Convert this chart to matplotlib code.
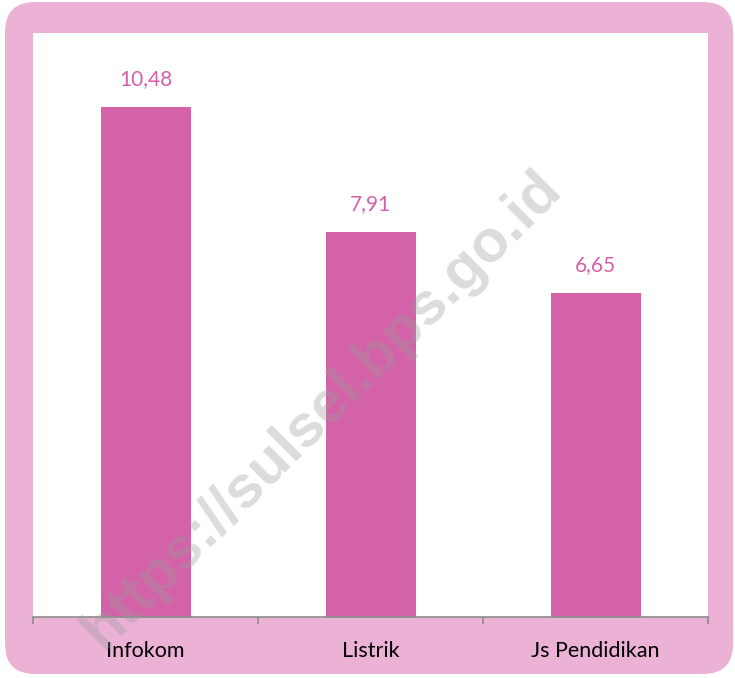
import matplotlib
matplotlib.use("Agg")
from matplotlib import pyplot as plt
from matplotlib.patches import FancyBboxPatch

# data
categories = ["Infokom", "Listrik", "Js Pendidikan"]
values = [10.48, 7.91, 6.65]
value_labels = ["10,48", "7,91", "6,65"]

plt.rcParams['font.family'] = ['Lato', 'DejaVu Sans']

W, H = 735, 678
fig = plt.figure(figsize=(W / 100, H / 100), dpi=100)
fig.patch.set_facecolor("white")

# pink rounded frame (drawn in pixel units so the corners stay round)
frame = FancyBboxPatch((5, 4), 728, 672,
                       boxstyle="round,pad=0,rounding_size=30",
                       transform=None, facecolor="#EBB2D6",
                       edgecolor="none", zorder=-1)
fig.add_artist(frame)

ax = fig.add_axes([33 / W, 61 / H, 675 / W, 584 / H])
ax.set_zorder(1)
ax.set_facecolor("white")

bar_color = "#D462A9"
x = list(range(len(categories)))
bars = ax.bar(x, values, width=0.4, color=bar_color, zorder=2)

for b, lab in zip(bars, value_labels):
    ax.annotate(lab, (b.get_x() + b.get_width() / 2, b.get_height()),
                xytext=(0, 13), textcoords="offset points",
                ha="center", va="bottom", fontsize=15, color="#D65FA8")

ax.set_xlim(-0.5, 2.5)
ax.set_ylim(0, 12)
for s in ["top", "left", "right"]:
    ax.spines[s].set_visible(False)
ax.spines["bottom"].set_color("#8C8C8C")
ax.spines["bottom"].set_linewidth(1.2)

ax.set_yticks([])
ax.set_xticks([-0.5, 0.5, 1.5, 2.5])
ax.set_xticklabels([])
ax.tick_params(axis="x", which="major", direction="out", length=5,
               width=1.2, color="#8C8C8C")
ax.set_xticks(x, minor=True)
ax.set_xticklabels(categories, minor=True, fontsize=15.5, color="black")
ax.tick_params(axis="x", which="minor", length=0, pad=17)

# watermark
fig.text(322 / W, 1 - 410 / H, "https://sulsel.bps.go.id", rotation=45,
         ha="center", va="center", fontsize=43, fontweight="bold",
         family="Liberation Sans", color="#9A9A9A", alpha=0.35, zorder=5)

fig.savefig("out.png", dpi=100)
